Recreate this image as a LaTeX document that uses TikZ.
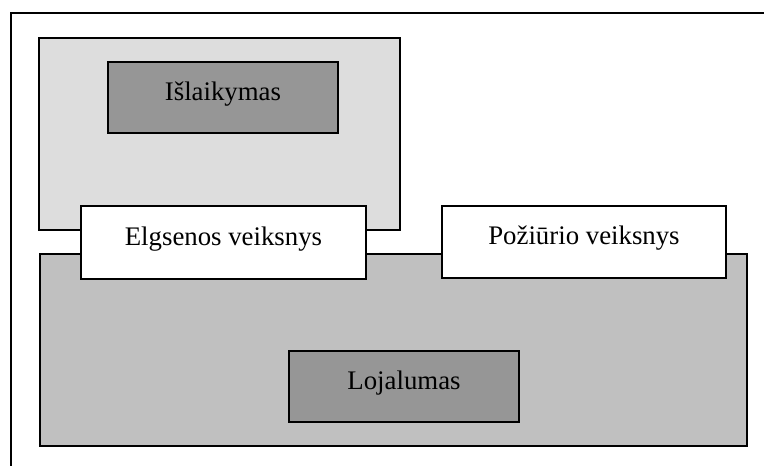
\documentclass[tikz,border=0pt]{standalone}
\usepackage{fontspec}
\setmainfont{Liberation Serif}
\definecolor{lightgrey}{HTML}{DDDDDD}
\definecolor{midgrey}{HTML}{C0C0C0}
\definecolor{darkgrey}{HTML}{969696}
\tikzset{
  panel/.style={draw=black, line width=1.4pt, inner sep=0pt, outer sep=0pt},
  whitebox/.style={panel, fill=white},
  caption/.style={label={[font=\fontsize{26.8}{30}\selectfont, yshift=3.5pt]center:#1}},
}
\begin{document}
\begin{tikzpicture}[x=1pt, y=-1pt]
  \useasboundingbox (0,0) rectangle (764,466);
  % page frame (only its left and top edges fall inside)
  \draw[line width=1.6pt] (11,466) -- (11,13) -- (764,13);

  % the two grey areas
  \node[panel, fill=lightgrey, minimum width=361pt, minimum height=192pt] (retention) at (219.5,134) {};
  \node[panel, fill=midgrey, minimum width=707pt, minimum height=192pt] (loyalty) at (393.5,350) {};

  % inner labels
  \node[panel, fill=darkgrey, minimum width=230pt, minimum height=71pt,
        caption=Išlaikymas] (islaikymas) at (223,97.5) {};
  \node[panel, fill=darkgrey, minimum width=230pt, minimum height=71pt,
        caption=Lojalumas] (lojalumas) at (404,386.5) {};

  % the two factors
  \node[whitebox, minimum width=285pt, minimum height=73pt,
        caption=Elgsenos veiksnys] (elgsena) at (223.5,242.5) {};
  \node[whitebox, minimum width=284pt, minimum height=72pt,
        caption=Požiūrio veiksnys] (poziuris) at (584,242) {};
\end{tikzpicture}
\end{document}
